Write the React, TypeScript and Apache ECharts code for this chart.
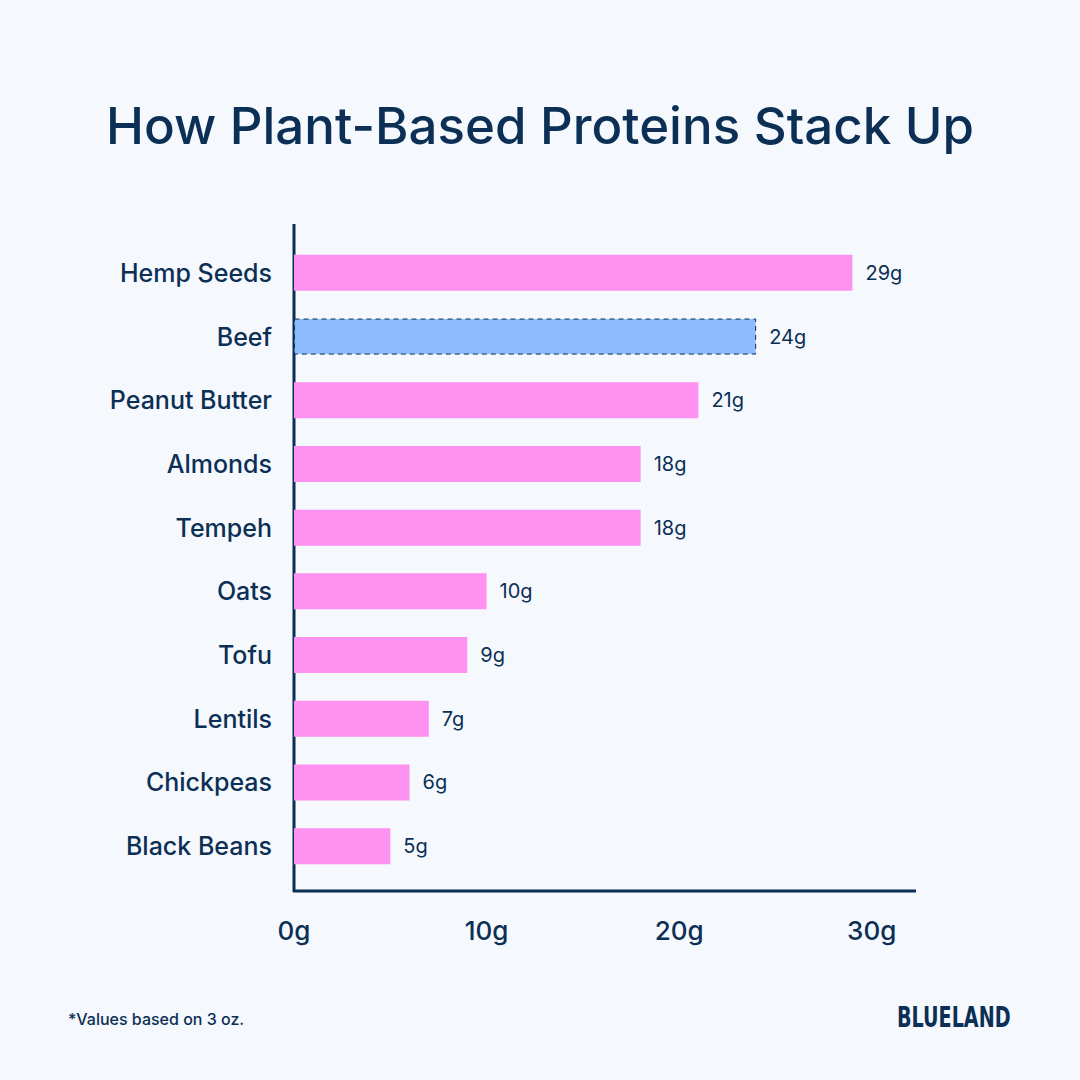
import React, { useEffect, useRef } from "react";
import * as echarts from "echarts";

const categories = ["Hemp Seeds", "Beef", "Peanut Butter", "Almonds", "Tempeh", "Oats", "Tofu", "Lentils", "Chickpeas", "Black Beans"];
const proteinGrams = [29, 24, 21, 18, 18, 10, 9, 7, 6, 5];
const highlighted = ["Beef"];
const xTicks = [0, 10, 20, 30];

const NAVY = "#0b2f55";
const PINK = "#ff91f1";
const BLUE = "#8cbcff";
const BG = "#f5f8fc";
const FONT = "Inter, 'Noto Sans', sans-serif";

export default function App() {
  const ref = useRef<HTMLDivElement>(null);
  useEffect(() => {
    if (!ref.current) return;
    const chart = echarts.init(ref.current, undefined, { renderer: "svg" });
    const gridLeft = 294;
    const gridTop = 241;
    const gridHeight = 637;
    const gridRight = 164;
    chart.setOption({
      animation: false,
      backgroundColor: BG,
      title: {
        text: "How Plant-Based Proteins Stack Up",
        left: "center",
        top: 95,
        textStyle: { fontFamily: FONT, fontSize: 51, fontWeight: 500, color: NAVY },
      },
      grid: { left: gridLeft, top: gridTop, height: gridHeight, right: gridRight, containLabel: false },
      xAxis: {
        type: "value",
        min: 0,
        max: 32.3,
        interval: 10,
        offset: 13,
        axisLine: { show: false },
        axisTick: { show: false },
        splitLine: { show: false },
        axisLabel: {
          customValues: xTicks,
          formatter: (v: number) => `${v}g`,
          fontFamily: FONT,
          fontSize: 26,
          fontWeight: 500,
          color: NAVY,
          margin: 26,
        },
      },
      yAxis: {
        type: "category",
        data: categories,
        inverse: true,
        axisLine: { show: false },
        axisTick: { show: false },
        axisLabel: { fontFamily: FONT, fontSize: 25, fontWeight: 500, color: NAVY, margin: 22 },
      },
      series: [
        {
          type: "bar",
          barWidth: 36,
          data: proteinGrams.map((v, i) =>
            highlighted.includes(categories[i])
              ? { value: v, itemStyle: { color: BLUE, borderColor: NAVY, borderWidth: 1, borderType: [5, 4] } }
              : { value: v, itemStyle: { color: PINK } }
          ),
          label: {
            show: true,
            position: "right",
            distance: 13,
            formatter: (p: any) => `${p.value}g`,
            fontFamily: FONT,
            fontSize: 20,
            color: NAVY,
          },
        },
      ],
      graphic: [
        { type: "line", shape: { x1: gridLeft, y1: 224, x2: gridLeft, y2: 892 }, style: { stroke: NAVY, lineWidth: 3 } },
        { type: "line", shape: { x1: gridLeft - 1, y1: 891, x2: 916, y2: 891 }, style: { stroke: NAVY, lineWidth: 3 } },
        {
          type: "text",
          left: 68,
          top: 1011,
          style: { text: "*Values based on 3 oz.", fontFamily: FONT, fontSize: 16, fontWeight: 500, fill: NAVY },
        },
        {
          type: "text",
          x: 897,
          y: 1003,
          scaleX: 0.76,
          style: { text: "BLUELAND", fontFamily: "'DejaVu Sans Condensed', 'DejaVu Sans', sans-serif", fontSize: 28, fontWeight: "bold", fill: NAVY },
        },
      ],
    });
    return () => chart.dispose();
  }, []);
  return <div ref={ref} style={{ width: 1080, height: 1080, position: "fixed", left: 0, top: 0 }} />;
}
